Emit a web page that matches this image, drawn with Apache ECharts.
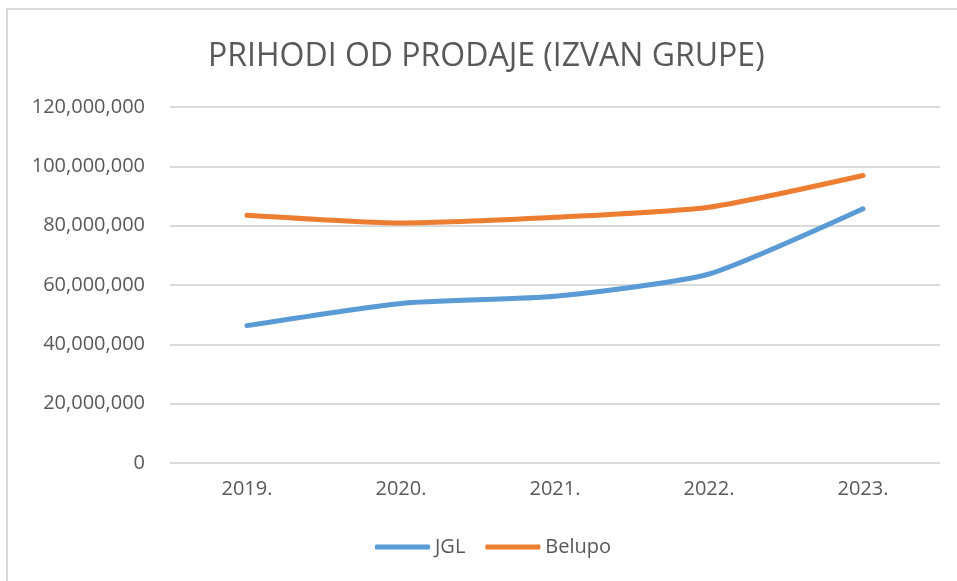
<!DOCTYPE html>
<html>
<head>
<meta charset="utf-8">
<script src="https://cdn.jsdelivr.net/npm/echarts@6/dist/echarts.min.js"></script>
<style>
  html, body { margin: 0; padding: 0; background: #fff; }
  #frame { position: absolute; left: 6px; top: 8px; width: 960px; height: 580px;
           border-top: 2px solid #d9d9d9; border-left: 2px solid #d9d9d9; }
  #chart { position: absolute; left: 0; top: 0; width: 957px; height: 581px; }
</style>
</head>
<body>
<div id="frame"></div>
<div id="chart"></div>
<script>
const years = ["2019.", "2020.", "2021.", "2022.", "2023."];
const jgl = [46300000, 53800000, 56200000, 63700000, 85700000];
const belupo = [83500000, 80900000, 82800000, 86200000, 96900000];
const yTicks = { min: 0, max: 120000000, interval: 20000000 };

const textColor = "#595959";
const font = "'Open Sans', sans-serif";

const chart = echarts.init(document.getElementById("chart"));
chart.setOption({
  animation: false,
  title: {
    text: "PRIHODI OD PRODAJE (IZVAN GRUPE)",
    left: 203,
    top: 36,
    textStyle: { color: textColor, fontSize: 32, fontWeight: "normal", fontFamily: font },
  },
  legend: {
    bottom: 19,
    left: 370,
    itemWidth: 55,
    itemHeight: 5,
    itemGap: 20,
    icon: "roundRect",
    textStyle: { color: textColor, fontSize: 20, fontFamily: font },
    data: ["JGL", "Belupo"],
  },
  grid: { left: 170, right: 17, top: 107, bottom: 118 },
  xAxis: {
    type: "category",
    data: years,
    boundaryGap: true,
    axisLine: { show: false },
    axisTick: { show: false },
    axisLabel: { color: textColor, fontSize: 20, fontFamily: font, margin: 16 },
  },
  yAxis: {
    type: "value",
    min: yTicks.min,
    max: yTicks.max,
    interval: yTicks.interval,
    axisLine: { show: false },
    axisTick: { show: false },
    splitLine: { lineStyle: { color: "#d9d9d9", width: 2 } },
    axisLabel: {
      color: textColor, fontSize: 20, fontFamily: font, margin: 25,
      formatter: (v) => v.toLocaleString("en-US"),
    },
  },
  series: [
    {
      name: "JGL", type: "line", data: jgl, smooth: 0.2,
      symbol: "none", color: "#5b9bd5",
      lineStyle: { width: 5, cap: "round", join: "round" },
    },
    {
      name: "Belupo", type: "line", data: belupo, smooth: 0.2,
      symbol: "none", color: "#ed7d31",
      lineStyle: { width: 5, cap: "round", join: "round" },
    },
  ],
});
</script>
</body>
</html>
